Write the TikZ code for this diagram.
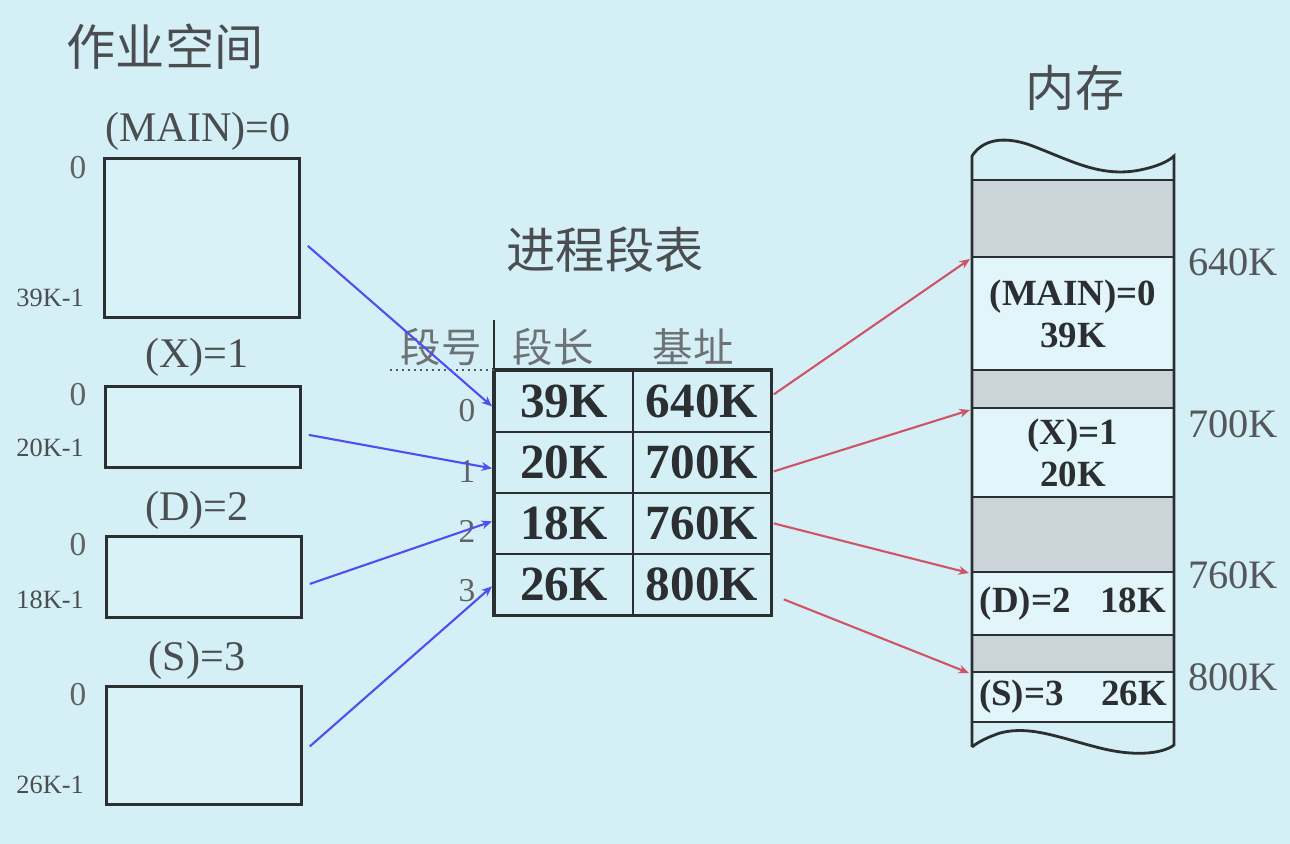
\documentclass[tikz,border=0pt]{standalone}
\usepackage{fontspec}
\setmainfont{Liberation Serif}
\newfontfamily\cjk{Noto Sans CJK SC}
\usetikzlibrary{arrows.meta,positioning,calc}
\definecolor{slidebg}{HTML}{D5EFF6}
\definecolor{boxfill}{HTML}{D9F2F8}
\definecolor{memfill}{HTML}{E2F5FA}
\definecolor{freegray}{HTML}{CBD4D8}
\definecolor{linkblue}{HTML}{4F4FF0}
\definecolor{linkred}{HTML}{CF5468}
\definecolor{inkdark}{HTML}{2B2F31}
\definecolor{headgray}{HTML}{6C7275}

\begin{document}
\begin{tikzpicture}[x=0.02cm,y=-0.02cm,>={Stealth[length=6pt,width=5pt]},
  title/.style={font=\cjk\fontsize{28}{32}\selectfont,text=inkdark!85},
  colhead/.style={font=\cjk\fontsize{23}{26}\selectfont,text=headgray},
  jobbox/.style={draw=inkdark,line width=1.6pt,fill=boxfill,minimum width=195*0.02cm,
                 anchor=north west,inner sep=0pt},
  joblab/.style={font=\fontsize{24}{28}\selectfont,text=inkdark!85},
  offs/.style={font=\fontsize{15}{18}\selectfont,text=inkdark!85,anchor=east},
  zero/.style={font=\fontsize{19}{22}\selectfont,text=inkdark!75},
  cell/.style={draw=inkdark,line width=1pt,minimum width=138*0.02cm,minimum height=61*0.02cm,
               font=\bfseries\fontsize{28}{32}\selectfont,text=inkdark,inner sep=0pt,anchor=north west},
  memused/.style={draw=inkdark,line width=1pt,fill=memfill,minimum width=202*0.02cm,inner sep=0pt,
                  outer sep=0pt,font=\bfseries\fontsize{21}{24}\selectfont,text=inkdark,align=center},
  memfree/.style={draw=inkdark,line width=1pt,fill=freegray,minimum width=202*0.02cm,inner sep=0pt,
                  outer sep=0pt},
  addr/.style={font=\fontsize{23}{26}\selectfont,text=inkdark!80,anchor=west},
  link/.style={->,line width=1.2pt}]

\useasboundingbox (0,0) rectangle (1290,844);
\fill[slidebg] (0,0) rectangle (1290,844);

% ===== job space: four segments =====
\node[title] (tjob) at (165,47) {作业空间};

\node[joblab] (lmain) at (198,131) {(MAIN)=0};
\node[jobbox,minimum height=159*0.02cm] (jmain) at (103,157) {};
\node[zero] at (78,168) {0};
\node[offs] at (90,298) {39K-1};

\node[joblab] (lx) at (197,357) {(X)=1};
\node[jobbox,minimum height=81*0.02cm] (jx) at (104,385) {};
\node[zero] at (78,395) {0};
\node[offs] at (90,448) {20K-1};

\node[joblab] (ld) at (197,510) {(D)=2};
\node[jobbox,minimum height=81*0.02cm] (jd) at (105,535) {};
\node[zero] at (78,545) {0};
\node[offs] at (90,600) {18K-1};

\node[joblab] (ls) at (197,660) {(S)=3};
\node[jobbox,minimum height=118*0.02cm] (js) at (105,685) {};
\node[zero] at (78,695) {0};
\node[offs] at (90,785) {26K-1};

% ===== process segment table =====
\node[title] (ttab) at (605,250) {进程段表};
\node[colhead] (hno) at (441,347) {段号};
\node[colhead] (hlen) at (553,347) {段长};
\node[colhead] (hbase) at (693,347) {基址};
\foreach \len/\base [count=\i from 0] in {39K/640K,20K/700K,18K/760K,26K/800K}{
  \node[cell] (len\i) at (494,370+\i*61) {\len};
  \node[cell] (base\i) at (632,370+\i*61) {\base};
  \node[zero] (no\i) at (467,411+\i*60) {\i};
}
\draw[inkdark,line width=1.8pt] (len0.north west) rectangle (base3.south east);
\draw[inkdark,line width=1.6pt] (len0.north west) -- ++(0,-50);
\draw[inkdark!80,dotted,line width=1.4pt] (390,370) -- (len0.north west);

% ===== main memory =====
\node[title] (tmem) at (1075,88) {内存};
\node[memfree,minimum height=77*0.02cm,anchor=north west] (f0) at (972,180) {};
\node[memused,minimum height=113*0.02cm,below=0pt of f0] (mmain) {(MAIN)=0\\39K};
\node[memfree,minimum height=38*0.02cm,below=0pt of mmain] (f1) {};
\node[memused,minimum height=89*0.02cm,below=0pt of f1] (mx) {(X)=1\\20K};
\node[memfree,minimum height=75*0.02cm,below=0pt of mx] (f2) {};
\node[memused,minimum height=63*0.02cm,below=0pt of f2] (md) {(D)=2\hspace{0.6cm}18K};
\node[memfree,minimum height=37*0.02cm,below=0pt of md] (f3) {};
\node[memused,minimum height=50*0.02cm,below=0pt of f3] (ms) {(S)=3\hspace{0.75cm}26K};
% torn edges
\draw[inkdark,line width=1.6pt] (972,747) -- (972,156)
  .. controls (985,136) and (1010,138) .. (1030,145)
  .. controls (1070,160) and (1100,178) .. (1140,170)
  .. controls (1160,166) and (1170,160) .. (1174,156) -- (1174,745)
  .. controls (1165,752) and (1140,758) .. (1100,748)
  .. controls (1060,738) and (1030,725) .. (1000,733)
  .. controls (988,737) and (978,742) .. (972,747);
\node[addr] at (1182,262) {640K};
\node[addr] at (1182,424) {700K};
\node[addr] at (1182,575) {760K};
\node[addr] at (1182,677) {800K};

% ===== arrows =====
\draw[link,linkblue] ($(jmain.east)+(7,8)$) -- ($(len0.west)+(-2,5)$);
\draw[link,linkblue] ($(jx.east)+(7,8)$) -- ($(len1.west)+(-2,6)$);
\draw[link,linkblue] ($(jd.east)+(7,7)$) -- ($(len2.west)+(-2,-2)$);
\draw[link,linkblue] ($(js.east)+(7,1)$) -- ($(len3.west)+(-2,2)$);
\draw[link,linkred] ($(base0.east)+(2,-7)$) -- ($(mmain.north west)+(-2,2)$);
\draw[link,linkred] ($(base1.east)+(2,9)$) -- ($(mx.north west)+(-2,2)$);
\draw[link,linkred] ($(base2.east)+(2,0)$) -- ($(md.north west)+(-3,1)$);
\draw[link,linkred] ($(base3.east)+(12,15)$) -- ($(ms.north west)+(-3,1)$);

\end{tikzpicture}
\end{document}
